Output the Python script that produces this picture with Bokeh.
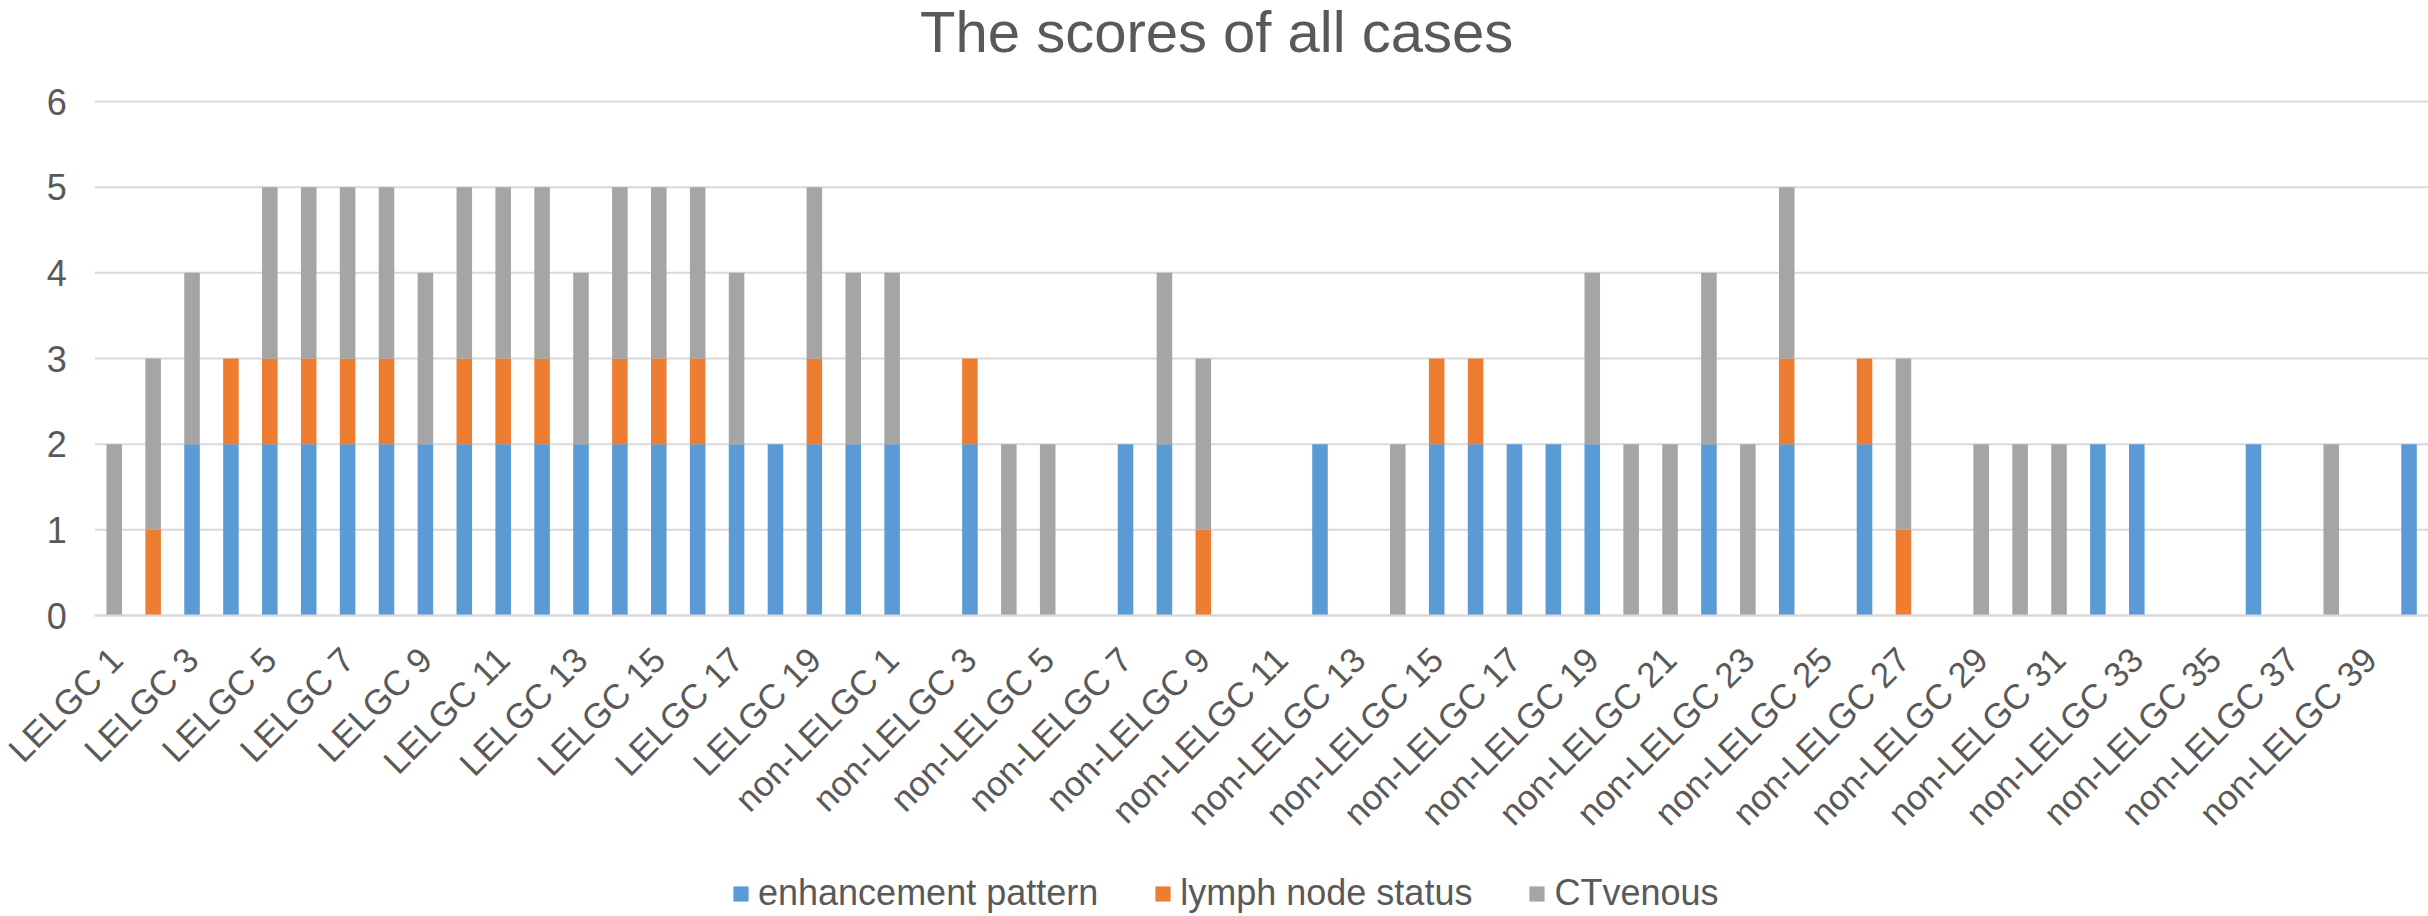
import math
from bokeh.plotting import figure
from bokeh.models import (ColumnDataSource, Legend, LegendItem, FixedTicker,
                          Range1d, Label)
from bokeh.embed import file_html
from bokeh.resources import INLINE

# ---------------- data ----------------
lelgc_cases = [f"LELGC {i}" for i in range(1, 21)]
non_lelgc_cases = [f"non-LELGC {i}" for i in range(1, 41)]
cases = lelgc_cases + non_lelgc_cases

enhancement_pattern = [
    0, 0, 2, 2, 2, 2, 2, 2, 2, 2, 2, 2, 2, 2, 2, 2, 2, 2, 2, 2,
    2, 0, 2, 0, 0, 0, 2, 2, 0, 0, 0, 2, 0, 0, 2, 2, 2, 2, 2, 0,
    0, 2, 0, 2, 0, 2, 0, 0, 0, 0, 0, 2, 2, 0, 0, 2, 0, 0, 0, 2,
]
lymph_node_status = [
    0, 1, 0, 1, 1, 1, 1, 1, 0, 1, 1, 1, 0, 1, 1, 1, 0, 0, 1, 0,
    0, 0, 1, 0, 0, 0, 0, 0, 1, 0, 0, 0, 0, 0, 1, 1, 0, 0, 0, 0,
    0, 0, 0, 1, 0, 1, 1, 0, 0, 0, 0, 0, 0, 0, 0, 0, 0, 0, 0, 0,
]
ct_venous = [
    2, 2, 2, 0, 2, 2, 2, 2, 2, 2, 2, 2, 2, 2, 2, 2, 2, 0, 2, 2,
    2, 0, 0, 2, 2, 0, 0, 2, 2, 0, 0, 0, 0, 2, 0, 0, 0, 0, 2, 2,
    2, 2, 2, 2, 0, 0, 2, 0, 2, 2, 2, 0, 0, 0, 0, 0, 0, 2, 0, 0,
]
series_names = ["enhancement pattern", "lymph node status", "CTvenous"]
series_colors = ["#5B9BD5", "#ED7D31", "#A5A5A5"]
y_ticks = [0, 1, 2, 3, 4, 5, 6]
chart_title = "The scores of all cases"

FONT = "Liberation Sans"
TEXT = "#595959"
GRID = "#D9D9D9"

# ---------------- layout (pixels inside the figure) ----------------
W, H = 2428, 916
PLOT_LEFT = 94.3          # left edge of the bar area
PLOT_RIGHT = 2428         # right edge of the bar area
ZERO_PX = 615             # where y = 0 sits, from figure top
TOP_PX = 101              # where y = 6 sits, from figure top

n = len(cases)
x_lo, x_hi = 0.5, n + 0.5
px_per_cat = (PLOT_RIGHT - PLOT_LEFT) / n
x_start = x_lo - PLOT_LEFT / px_per_cat

y_max = max(y_ticks)
px_per_unit = (ZERO_PX - TOP_PX) / y_max
y_top = y_max + TOP_PX / px_per_unit
y_bottom = -(H - ZERO_PX) / px_per_unit

positions = list(range(1, n + 1))
source = ColumnDataSource(dict(
    x=positions,
    enh=enhancement_pattern,
    lym=lymph_node_status,
    ct=ct_venous,
))

p = figure(
    width=W, height=H,
    x_range=Range1d(x_start, x_hi),
    y_range=Range1d(y_bottom, y_top),
    output_backend="svg",
    toolbar_location=None,
    min_border_left=0, min_border_right=0,
    min_border_top=0, min_border_bottom=0,
)

# horizontal gridlines limited to the bar area
p.segment(x0=[x_lo] * len(y_ticks), x1=[x_hi] * len(y_ticks),
          y0=y_ticks, y1=y_ticks, line_color=GRID, line_width=2)

renderers = p.vbar_stack(
    ["enh", "lym", "ct"], x="x", width=0.4,
    fill_color=series_colors, line_color=series_colors, line_width=0,
    source=source,
)

# title in the headroom above the top gridline
title = Label(
    x=(n + 1) / 2, y=y_max, x_offset=-45, y_offset=70,
    text=chart_title, text_align="center", text_baseline="alphabetic",
    text_font=FONT, text_font_size="58px", text_color=TEXT,
)
p.add_layout(title)

# x axis sits at y = 0
label_ticks = positions[::2]
p.xaxis.fixed_location = 0
p.xaxis.bounds = (x_lo, x_hi)
p.xaxis.ticker = FixedTicker(ticks=label_ticks)
p.xaxis.major_label_overrides = {t: cases[t - 1] for t in label_ticks}
p.xaxis.major_label_orientation = math.pi / 4
p.xaxis.major_label_text_font = FONT
p.xaxis.major_label_text_font_size = "35px"
p.xaxis.major_label_text_color = TEXT
p.xaxis.major_label_standoff = 32
p.xaxis.major_tick_line_color = None
p.xaxis.minor_tick_line_color = None
p.xaxis.axis_line_color = GRID
p.xaxis.axis_line_width = 2

# y axis sits at the left edge of the bar area
p.yaxis.fixed_location = x_lo
p.yaxis.bounds = (0, y_max)
p.yaxis.ticker = FixedTicker(ticks=y_ticks)
p.yaxis.major_label_text_font = FONT
p.yaxis.major_label_text_font_size = "36px"
p.yaxis.major_label_text_color = TEXT
p.yaxis.major_label_standoff = 22
p.yaxis.major_tick_line_color = None
p.yaxis.minor_tick_line_color = None
p.yaxis.axis_line_color = None

p.xgrid.visible = False
p.ygrid.visible = False
p.outline_line_color = None
p.background_fill_color = "white"
p.border_fill_color = "white"

legend = Legend(
    items=[LegendItem(label=s, renderers=[r]) for s, r in zip(series_names, renderers)],
    orientation="horizontal",
    location=(731, 2),
    label_text_font=FONT,
    label_text_font_size="36px",
    label_text_color=TEXT,
    glyph_width=19, glyph_height=19,
    label_standoff=8,
    spacing=55,
    padding=0,
    margin=0,
    border_line_color=None,
    background_fill_alpha=0,
)
p.add_layout(legend, "center")

open("out.html", "w").write(file_html(p, INLINE))
